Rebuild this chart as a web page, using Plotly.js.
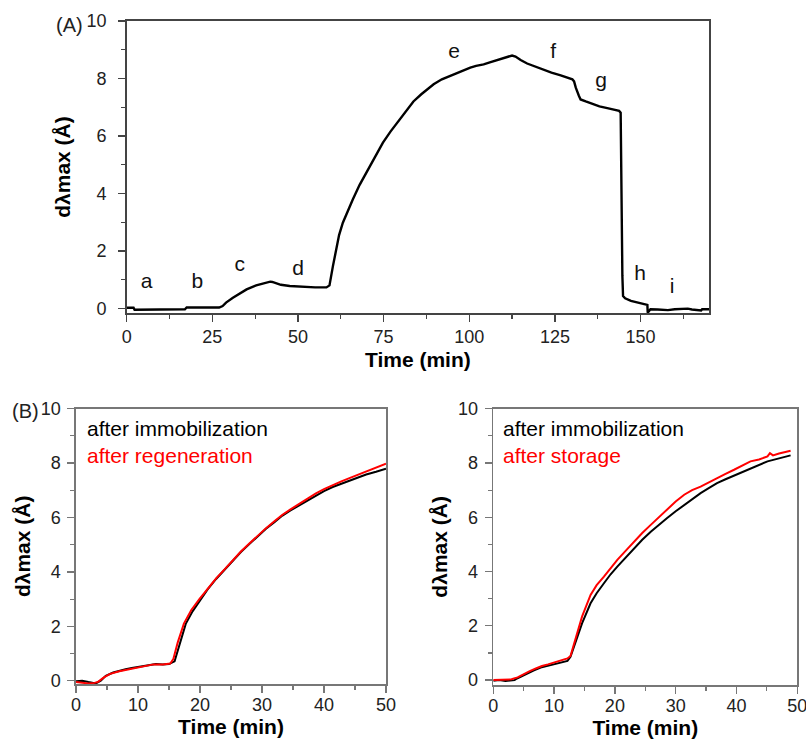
<!DOCTYPE html>
<html>
<head>
<meta charset="utf-8">
<script src="https://cdn.plot.ly/plotly-3.0.1.min.js"></script>
<style>html,body{margin:0;padding:0;background:#fff;}#chart{width:806px;height:742px;}</style>
</head>
<body>
<div id="chart"></div>
<script>
// Panel A: full sensorgram
const timeA = [0,1,2,2.3,5,10,15,17,17.5,20,25,27,28,29,31,33,34.4,35,37.8,40,41.9,42.5,43.7,45,47.6,50,52.4,55,58.3,59.2,60.2,61.2,62,63.1,64.5,66,68,69.9,72,74.8,77,79.7,81.5,83.7,86,89.6,92,95.4,98,100.3,102,104.2,106,108.1,110,112,112.5,113.5,115,116.9,119,121.8,124,126.7,128.5,130.1,130.6,131.1,132,132.5,134,136.4,138,140.3,142,143.75,144.2,144.3,144.4,144.6,144.7,144.9,145.5,147.2,149,151.6,152,152.1,152.9,155,158,160,163.8,165,167.7,168,170];
const shiftA = [0.02,0.03,0.02,-0.05,-0.05,-0.04,-0.04,-0.03,0.03,0.03,0.03,0.03,0.08,0.2,0.37,0.52,0.62,0.66,0.8,0.87,0.93,0.92,0.86,0.82,0.78,0.76,0.74,0.73,0.73,0.8,1.47,2.11,2.55,2.98,3.4,3.79,4.3,4.72,5.15,5.77,6.15,6.58,6.85,7.2,7.45,7.8,7.97,8.14,8.27,8.38,8.44,8.49,8.56,8.64,8.7,8.78,8.8,8.76,8.64,8.52,8.42,8.28,8.2,8.11,8.04,7.97,7.9,7.68,7.4,7.27,7.2,7.09,7.03,6.97,6.92,6.87,6.81,5.5,4.0,2.5,1.13,0.43,0.35,0.26,0.2,0.14,0.12,-0.15,-0.03,-0.04,-0.06,-0.03,-0.01,-0.04,-0.07,-0.03,-0.03];
const stepLabels = ['a','b','c','d','e','f','g','h','i'];
const stepX = [5.8,20.6,33,50,95.6,124.5,138.5,149.9,159.2];
const stepY = [0.9,0.9,1.47,1.36,8.9,8.9,7.9,1.18,0.73];

// Panel B left: immobilization vs regeneration
const timeB1imm = [0,1,2,3,3.2,4,4.8,6,7,8,9,10.2,11.5,12.9,14,15,15.9,16.7,17.7,18.8,19.9,21.2,22.6,24,25.3,26.6,28,29.3,30.6,32,33.3,34.6,36,37.3,38.7,40,41.4,42.8,44.1,45.5,46.8,48.4,50];
const shiftB1imm = [-0.02,0.0,-0.05,-0.08,-0.1,0.0,0.18,0.3,0.37,0.42,0.47,0.52,0.57,0.61,0.6,0.61,0.71,1.35,2.09,2.55,2.94,3.35,3.74,4.1,4.42,4.73,5.03,5.32,5.58,5.83,6.07,6.26,6.44,6.63,6.81,6.97,7.12,7.24,7.36,7.47,7.58,7.68,7.79];
const timeB1reg = [0,1,2,3,3.5,4.5,5.5,7,8.5,10,11,12.5,14,15.2,15.7,16.4,17.4,18.6,19.9,21.2,22.6,24,25.3,26.6,28,29.3,30.6,32,33.3,34.6,36,37.3,38.7,40,41.4,42.8,44.1,45.5,46.8,48.4,50];
const shiftB1reg = [-0.05,-0.08,-0.1,-0.08,-0.05,0.12,0.25,0.35,0.42,0.48,0.55,0.6,0.6,0.63,0.8,1.4,2.1,2.6,3.0,3.38,3.76,4.1,4.44,4.75,5.05,5.33,5.6,5.86,6.1,6.3,6.5,6.7,6.89,7.04,7.2,7.33,7.45,7.58,7.7,7.84,7.98];

// Panel B right: immobilization vs storage
const timeB2imm = [0,1,2,3,3.5,3.9,4.8,5.6,6.7,7.8,9,10,11,12.2,12.7,13.5,14.6,16,17,18.2,19.3,20.4,21.8,23.1,24.5,25.9,27.2,28.6,30,31.4,32.7,34.1,35.5,36.8,38.2,39.6,41,42.3,43.7,45.1,47,48.9];
const shiftB2imm = [-0.02,0.0,-0.03,-0.02,0.0,0.06,0.16,0.25,0.36,0.46,0.53,0.59,0.64,0.71,0.86,1.35,2.09,2.83,3.2,3.57,3.9,4.18,4.53,4.86,5.17,5.47,5.72,5.97,6.22,6.46,6.68,6.89,7.08,7.26,7.4,7.53,7.68,7.81,7.94,8.06,8.17,8.28];
const timeB2sto = [0,1.5,3,4,5,6,7,8,9,10,11,12.2,12.7,13.5,14.6,16,17,18.2,19.3,20.4,21.8,23.1,24.5,25.9,27.2,28.6,30,31.4,32.7,34.1,35.5,36.8,38.2,39.6,41,42.3,43.7,45.1,45.5,46,47,48.9];
const shiftB2sto = [0.0,0.02,0.03,0.1,0.2,0.33,0.43,0.52,0.58,0.64,0.72,0.8,0.89,1.48,2.34,3.14,3.5,3.81,4.12,4.43,4.77,5.1,5.42,5.72,6.0,6.27,6.58,6.83,7.0,7.13,7.3,7.44,7.6,7.75,7.9,8.06,8.13,8.24,8.36,8.28,8.35,8.45];

const seriesNames = ['after immobilization', 'after regeneration', 'after storage'];
const yTitle = 'd\u03bbmax (\u00c5)';
const xTitle = 'Time (min)';
const FONT = 'Arial, "Liberation Sans", sans-serif';

const traces = [
  {x: timeA, y: shiftA, xaxis:'x', yaxis:'y', mode:'lines', line:{color:'#000', width:2.4}},
  {x: stepX, y: stepY, text: stepLabels, xaxis:'x', yaxis:'y', mode:'text', textfont:{family:FONT, size:21, color:'#111'}},
  {x: timeB1imm, y: shiftB1imm, name: seriesNames[0], xaxis:'x2', yaxis:'y2', mode:'lines', line:{color:'#000', width:2}},
  {x: timeB1reg, y: shiftB1reg, name: seriesNames[1], xaxis:'x2', yaxis:'y2', mode:'lines', line:{color:'#ff0000', width:2}},
  {x: timeB2imm, y: shiftB2imm, name: seriesNames[0], xaxis:'x3', yaxis:'y3', mode:'lines', line:{color:'#000', width:2}},
  {x: timeB2sto, y: shiftB2sto, name: seriesNames[2], xaxis:'x3', yaxis:'y3', mode:'lines', line:{color:'#ff0000', width:2}}
];

function xax(domain, range, dtick, minor, anchor, lc, lblOff, standoff) {
  return {domain, range, dtick, tick0:0, anchor, showgrid:false, zeroline:false, showline:true, mirror:true,
    linecolor:lc, linewidth:1.6, ticks:'outside', ticklen:7, tickwidth:1.3, tickcolor:lc,
    minor:{dtick:minor, ticks:'outside', ticklen:4, tickwidth:1.2, tickcolor:lc, showgrid:false},
    tickfont:{family:FONT, size:18, color:'#222'}, ticklabelstandoff:lblOff, ticklabeloverflow:'allow',
    title:{text:'<b>'+xTitle+'</b>', font:{family:FONT, size:21, color:'#000'}, standoff:standoff}};
}
function yax(domain, range, anchor, lc, lblOff, standoff) {
  return {domain, range, dtick:2, tick0:0, anchor, showgrid:false, zeroline:false, showline:true, mirror:true,
    linecolor:lc, linewidth:1.6, ticks:'outside', ticklen:7, tickwidth:1.3, tickcolor:lc,
    minor:{dtick:1, ticks:'outside', ticklen:4, tickwidth:1.2, tickcolor:lc, showgrid:false},
    tickfont:{family:FONT, size:18, color:'#222'}, ticklabelstandoff:lblOff, ticklabeloverflow:'allow',
    title:{text:'<b>'+yTitle+'</b>', font:{family:FONT, size:21, color:'#000'}, standoff:standoff}};
}

function legendText(a, b) {
  return '<span style="color:#000">' + a + '</span><br><span style="color:#ff0000">' + b + '</span>';
}

const layout = {
  width:806, height:742, margin:{l:0,r:0,t:0,b:0}, showlegend:false,
  paper_bgcolor:'#fff', plot_bgcolor:'#fff',
  xaxis: xax([0.1572,0.8797],[0,170],25,12.5,'y','#444',0,6),
  yaxis: yax([0.5782,0.9717],[-0.16,10],'x','#444',8,10),
  xaxis2: xax([0.0943,0.4789],[0,50],10,5,'y2','#777',-3,2),
  yaxis2: yax([0.0782,0.4492],[-0.12,10],'x2','#777',3,4),
  xaxis3: xax([0.6120,0.9892],[0,50],10,5,'y3','#777',-3,2),
  yaxis3: yax([0.0768,0.4492],[-0.18,10],'x3','#777',3,4),
  annotations: [
    {text:'(A)', xref:'paper', yref:'paper', x:54/806, y:1-25/742, xanchor:'left', yanchor:'middle', showarrow:false, font:{family:FONT, size:20, color:'#222'}},
    {text:'(B)', xref:'paper', yref:'paper', x:10/806, y:1-411/742, xanchor:'left', yanchor:'middle', showarrow:false, font:{family:FONT, size:20, color:'#222'}},
    {text:legendText(seriesNames[0], seriesNames[1]), xref:'paper', yref:'paper', x:86/806, y:1-416/742, xanchor:'left', yanchor:'top', align:'left', borderpad:0, showarrow:false, font:{family:FONT, size:21, color:'#000'}},
    {text:legendText(seriesNames[0], seriesNames[2]), xref:'paper', yref:'paper', x:502/806, y:1-416/742, xanchor:'left', yanchor:'top', align:'left', borderpad:0, showarrow:false, font:{family:FONT, size:21, color:'#000'}}
  ]
};

Plotly.newPlot('chart', traces, layout, {staticPlot:true, displayModeBar:false});
</script>
</body>
</html>
